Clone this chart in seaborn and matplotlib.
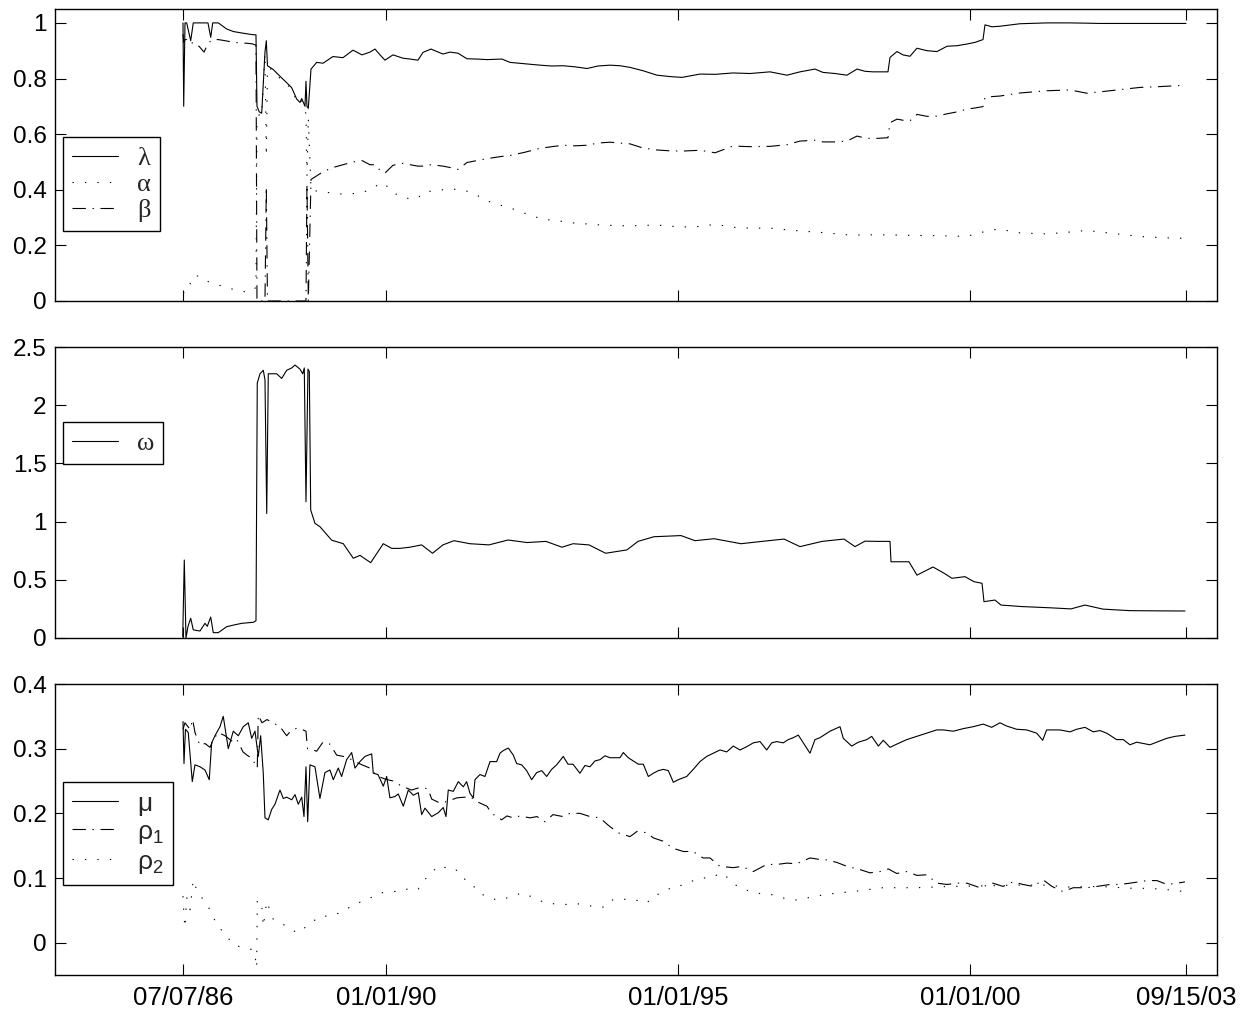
import numpy as np
import pandas as pd

import matplotlib
matplotlib.use("Agg")
import matplotlib.pyplot as plt
from matplotlib.ticker import FormatStrFormatter
import seaborn as sns

# ============================================================
# DATA (decimal years)
# ============================================================
# ---- panel 1: lambda / alpha / beta ----
p1_years = [
    1986.514, 1986.526, 1986.548, 1986.577, 1986.646, 1986.690, 1986.793, 1986.874, 1986.942, 1986.989,
    1987.023, 1987.119, 1987.263, 1987.376, 1987.542, 1987.697, 1987.765, 1987.782, 1987.822, 1987.863,
    1987.919, 1987.942, 1987.962, 1988.057, 1988.177, 1988.291, 1988.377, 1988.463, 1988.519, 1988.549,
    1988.605, 1988.622, 1988.639, 1988.662, 1988.708, 1988.806, 1988.914, 1989.085, 1989.256, 1989.428,
    1989.582, 1989.719, 1989.805, 1989.891, 1989.976, 1990.113, 1990.285, 1990.405, 1990.542, 1990.628,
    1990.765, 1990.970, 1991.091, 1991.228, 1991.382, 1991.553, 1991.725, 1991.982, 1992.119, 1992.376,
    1992.633, 1992.839, 1993.027, 1993.233, 1993.439, 1993.627, 1993.833, 1994.004, 1994.176, 1994.399,
    1994.639, 1994.862, 1995.067, 1995.376, 1995.633, 1995.941, 1996.233, 1996.576, 1996.867, 1997.090,
    1997.347, 1997.484, 1997.690, 1997.895, 1998.067, 1998.204, 1998.341, 1998.598, 1998.633, 1998.753,
    1998.855, 1998.975, 1999.095, 1999.267, 1999.438, 1999.610, 1999.781, 1999.952, 2000.090, 2000.227,
    2000.261, 2000.381, 2000.518, 2000.861, 2001.324, 2001.718, 2002.009, 2002.232, 2002.575, 2002.918,
    2003.261, 2003.706,
]
lam = [
    1.00, 0.70, 1.00, 1.00, 0.936, 1.00, 1.00, 1.00, 1.00, 0.948,
    1.00, 1.00, 0.978, 0.969, 0.963, 0.958, 0.957, 0.70, 0.68, 0.675,
    0.895, 0.936, 0.846, 0.833, 0.808, 0.785, 0.767, 0.726, 0.714, 0.728,
    0.70, 0.79, 0.70, 0.693, 0.834, 0.858, 0.855, 0.879, 0.875, 0.902,
    0.885, 0.895, 0.906, 0.885, 0.866, 0.885, 0.873, 0.870, 0.866, 0.894,
    0.906, 0.888, 0.895, 0.891, 0.871, 0.870, 0.868, 0.870, 0.858, 0.853,
    0.848, 0.845, 0.846, 0.842, 0.836, 0.845, 0.848, 0.846, 0.840, 0.828,
    0.812, 0.807, 0.804, 0.816, 0.815, 0.820, 0.818, 0.824, 0.812, 0.824,
    0.834, 0.822, 0.818, 0.812, 0.834, 0.826, 0.824, 0.824, 0.876, 0.897,
    0.885, 0.880, 0.909, 0.900, 0.897, 0.916, 0.918, 0.924, 0.930, 0.940,
    0.993, 0.986, 0.988, 0.997, 1.000, 1.000, 0.999, 0.998, 0.998, 0.998,
    0.998, 0.998,
]
alpha = [
    0.03, 0.03, 0.028, 0.043, 0.065, 0.09, 0.09, 0.08, 0.07, 0.067,
    0.065, 0.058, 0.048, 0.042, 0.034, 0.034, 0.05, 0.66, 0.67, 0.665,
    0.89, 0.52, 0.84, 0.83, 0.80, 0.78, 0.76, 0.72, 0.71, 0.72,
    0.69, 0.67, 0.45, 0.66, 0.40, 0.395, 0.392, 0.388, 0.384, 0.386,
    0.39, 0.40, 0.41, 0.425, 0.42, 0.39, 0.372, 0.368, 0.37, 0.39,
    0.395, 0.40, 0.404, 0.40, 0.395, 0.38, 0.36, 0.343, 0.335, 0.315,
    0.297, 0.29, 0.286, 0.28, 0.277, 0.274, 0.272, 0.271, 0.270, 0.272,
    0.273, 0.269, 0.266, 0.268, 0.276, 0.265, 0.262, 0.262, 0.256, 0.252,
    0.248, 0.246, 0.242, 0.238, 0.237, 0.238, 0.238, 0.238, 0.238, 0.237,
    0.237, 0.236, 0.236, 0.235, 0.235, 0.234, 0.233, 0.233, 0.240, 0.248,
    0.25, 0.256, 0.258, 0.245, 0.241, 0.248, 0.254, 0.248, 0.24, 0.232,
    0.228, 0.225,
]
beta = [
    0.96, 0.93, 0.94, 0.94, 0.925, 0.93, 0.915, 0.895, 0.925, 0.935,
    0.94, 0.94, 0.935, 0.93, 0.928, 0.925, 0.92, 0.0, 0.0, 0.0,
    0.0, 0.41, 0.0, 0.0, 0.0, 0.0, 0.0, 0.0, 0.0, 0.0,
    0.0, 0.0, 0.42, 0.0, 0.437, 0.45, 0.465, 0.48, 0.49, 0.50,
    0.505, 0.49, 0.49, 0.47, 0.46, 0.488, 0.495, 0.49, 0.485, 0.485,
    0.49, 0.485, 0.48, 0.473, 0.498, 0.505, 0.512, 0.52, 0.523, 0.535,
    0.549, 0.555, 0.56, 0.558, 0.56, 0.568, 0.571, 0.568, 0.565, 0.55,
    0.543, 0.54, 0.539, 0.542, 0.533, 0.557, 0.555, 0.556, 0.562, 0.575,
    0.578, 0.572, 0.572, 0.575, 0.593, 0.586, 0.584, 0.587, 0.641, 0.654,
    0.650, 0.648, 0.671, 0.664, 0.665, 0.673, 0.68, 0.69, 0.694, 0.699,
    0.732, 0.735, 0.737, 0.748, 0.756, 0.759, 0.747, 0.752, 0.76, 0.768,
    0.771, 0.776,
]

# ---- panel 2: omega ----
omega_years = [
    1986.509, 1986.536, 1986.565, 1986.600, 1986.646, 1986.690, 1986.805, 1986.891, 1986.930, 1986.989,
    1987.033, 1987.119, 1987.263, 1987.371, 1987.520, 1987.719, 1987.765, 1987.787, 1987.834, 1987.890,
    1987.919, 1987.949, 1987.976, 1988.120, 1988.206, 1988.291, 1988.377, 1988.434, 1988.519, 1988.566,
    1988.593, 1988.622, 1988.656, 1988.679, 1988.703, 1988.776, 1988.862, 1989.063, 1989.262, 1989.433,
    1989.548, 1989.731, 1989.947, 1990.091, 1990.233, 1990.405, 1990.604, 1990.791, 1990.970, 1991.159,
    1991.433, 1991.759, 1992.085, 1992.410, 1992.736, 1993.010, 1993.199, 1993.473, 1993.758, 1994.124,
    1994.313, 1994.587, 1994.827, 1995.050, 1995.290, 1995.616, 1996.079, 1996.438, 1996.816, 1997.090,
    1997.467, 1997.844, 1998.033, 1998.204, 1998.427, 1998.633, 1998.650, 1998.958, 1999.095, 1999.370,
    1999.558, 1999.695, 1999.918, 2000.072, 2000.210, 2000.244, 2000.432, 2000.535, 2000.895, 2001.358,
    2001.735, 2001.975, 2002.284, 2002.746, 2003.261, 2003.689,
]
omega = [
    0.01, 0.67, 0.0, 0.10, 0.17, 0.07, 0.06, 0.126, 0.10, 0.18,
    0.046, 0.046, 0.097, 0.11, 0.126, 0.135, 0.148, 2.19, 2.27, 2.30,
    2.22, 1.07, 2.27, 2.27, 2.23, 2.30, 2.32, 2.345, 2.31, 2.27,
    2.32, 1.17, 2.31, 2.29, 1.10, 0.985, 0.956, 0.84, 0.81, 0.685,
    0.71, 0.647, 0.81, 0.77, 0.77, 0.78, 0.80, 0.728, 0.80, 0.836,
    0.81, 0.80, 0.842, 0.82, 0.83, 0.78, 0.81, 0.80, 0.728, 0.757,
    0.83, 0.87, 0.875, 0.88, 0.836, 0.853, 0.81, 0.83, 0.85, 0.785,
    0.83, 0.85, 0.785, 0.832, 0.83, 0.83, 0.655, 0.655, 0.54, 0.61,
    0.557, 0.513, 0.527, 0.484, 0.47, 0.312, 0.326, 0.283, 0.27, 0.26,
    0.25, 0.283, 0.248, 0.235, 0.233, 0.232,
]

# ---- panel 3: mu / rho1 / rho2 ----
mu_years = [
    1986.514, 1986.531, 1986.556, 1986.604, 1986.673, 1986.719, 1986.805, 1986.891, 1986.964, 1987.005,
    1987.062, 1987.148, 1987.204, 1987.290, 1987.376, 1987.462, 1987.547, 1987.633, 1987.691, 1987.748,
    1987.804, 1987.845, 1987.890, 1987.919, 1987.976, 1988.034, 1988.090, 1988.176, 1988.233, 1988.291,
    1988.377, 1988.434, 1988.490, 1988.549, 1988.588, 1988.622, 1988.651, 1988.690, 1988.776, 1988.861,
    1988.947, 1989.033, 1989.090, 1989.175, 1989.233, 1989.319, 1989.405, 1989.462, 1989.547, 1989.633,
    1989.748, 1989.776, 1989.856, 1989.947, 1990.005, 1990.061, 1990.147, 1990.204, 1990.290, 1990.376,
    1990.462, 1990.547, 1990.605, 1990.662, 1990.777, 1990.890, 1990.975, 1991.022, 1991.061, 1991.147,
    1991.233, 1991.318, 1991.376, 1991.433, 1991.490, 1991.519, 1991.604, 1991.690, 1991.776, 1991.891,
    1991.947, 1992.004, 1992.090, 1992.176, 1992.233, 1992.319, 1992.405, 1992.490, 1992.576, 1992.662,
    1992.748, 1992.833, 1992.919, 1993.032, 1993.113, 1993.198, 1993.318, 1993.404, 1993.490, 1993.575,
    1993.661, 1993.747, 1993.833, 1994.004, 1994.061, 1994.147, 1994.233, 1994.318, 1994.404, 1994.490,
    1994.576, 1994.661, 1994.747, 1994.833, 1994.919, 1995.004, 1995.148, 1995.261, 1995.376, 1995.490,
    1995.604, 1995.719, 1995.834, 1995.947, 1996.062, 1996.176, 1996.290, 1996.405, 1996.519, 1996.605,
    1996.690, 1996.803, 1996.889, 1996.975, 1997.061, 1997.147, 1997.261, 1997.347, 1997.433, 1997.604,
    1997.776, 1997.832, 1997.976, 1998.090, 1998.234, 1998.319, 1998.433, 1998.518, 1998.633, 1998.748,
    1998.919, 1999.090, 1999.262, 1999.433, 1999.546, 1999.718, 1999.889, 2000.060, 2000.231, 2000.375,
    2000.518, 2000.633, 2000.804, 2000.976, 2001.147, 2001.250, 2001.318, 2001.546, 2001.718, 2001.833,
    2001.975, 2002.117, 2002.232, 2002.347, 2002.518, 2002.631, 2002.746, 2002.861, 2002.975, 2003.089,
    2003.204, 2003.376, 2003.518, 2003.689,
]
mu = [
    0.342, 0.277, 0.33, 0.325, 0.249, 0.275, 0.272, 0.267, 0.252, 0.309,
    0.32, 0.334, 0.35, 0.30, 0.327, 0.32, 0.334, 0.34, 0.316, 0.327,
    0.288, 0.32, 0.262, 0.193, 0.19, 0.206, 0.214, 0.236, 0.223, 0.225,
    0.221, 0.229, 0.214, 0.225, 0.195, 0.272, 0.187, 0.275, 0.272, 0.223,
    0.263, 0.267, 0.252, 0.27, 0.257, 0.283, 0.294, 0.27, 0.28, 0.288,
    0.292, 0.262, 0.26, 0.242, 0.257, 0.224, 0.226, 0.23, 0.211, 0.236,
    0.228, 0.232, 0.198, 0.208, 0.195, 0.201, 0.209, 0.195, 0.236, 0.234,
    0.249, 0.241, 0.249, 0.231, 0.224, 0.252, 0.26, 0.257, 0.28, 0.28,
    0.293, 0.297, 0.301, 0.29, 0.277, 0.275, 0.266, 0.252, 0.263, 0.266,
    0.257, 0.268, 0.275, 0.288, 0.276, 0.276, 0.262, 0.274, 0.272, 0.281,
    0.283, 0.289, 0.286, 0.286, 0.294, 0.286, 0.281, 0.276, 0.276, 0.257,
    0.262, 0.266, 0.268, 0.266, 0.248, 0.252, 0.257, 0.268, 0.28, 0.288,
    0.293, 0.298, 0.295, 0.304, 0.298, 0.303, 0.309, 0.311, 0.298, 0.309,
    0.311, 0.309, 0.314, 0.317, 0.321, 0.309, 0.293, 0.314, 0.317, 0.327,
    0.334, 0.316, 0.304, 0.31, 0.314, 0.319, 0.304, 0.313, 0.302, 0.307,
    0.314, 0.319, 0.324, 0.329, 0.329, 0.327, 0.331, 0.334, 0.338, 0.333,
    0.34, 0.335, 0.33, 0.329, 0.324, 0.313, 0.329, 0.329, 0.326, 0.33,
    0.333, 0.326, 0.328, 0.324, 0.314, 0.314, 0.306, 0.31, 0.308, 0.306,
    0.31, 0.316, 0.319, 0.321,
]

rho1_years = [
    1986.514, 1986.548, 1986.634, 1986.680, 1986.719, 1986.805, 1986.891, 1986.977, 1987.033, 1987.119,
    1987.234, 1987.376, 1987.439, 1987.542, 1987.611, 1987.697, 1987.787, 1987.804, 1987.868, 1987.954,
    1988.057, 1988.176, 1988.291, 1988.348, 1988.468, 1988.549, 1988.622, 1988.648, 1988.690, 1988.804,
    1988.913, 1989.033, 1989.148, 1989.324, 1989.462, 1989.582, 1989.718, 1989.838, 1989.976, 1990.113,
    1990.262, 1990.433, 1990.576, 1990.713, 1990.777, 1990.919, 1991.034, 1991.210, 1991.347, 1991.433,
    1991.553, 1991.724, 1991.805, 1991.976, 1992.067, 1992.175, 1992.290, 1992.462, 1992.582, 1992.719,
    1992.856, 1993.027, 1993.147, 1993.318, 1993.490, 1993.661, 1993.798, 1993.969, 1994.176, 1994.296,
    1994.467, 1994.576, 1994.742, 1994.913, 1995.090, 1995.256, 1995.427, 1995.547, 1995.719, 1995.947,
    1996.096, 1996.290, 1996.519, 1996.696, 1996.867, 1997.033, 1997.261, 1997.404, 1997.553, 1997.724,
    1997.895, 1998.119, 1998.290, 1998.461, 1998.604, 1998.748, 1998.924, 1999.095, 1999.262, 1999.438,
    1999.610, 1999.781, 1999.952, 2000.175, 2000.398, 2000.569, 2000.741, 2000.912, 2001.084, 2001.260,
    2001.409, 2001.598, 2001.775, 2002.009, 2002.181, 2002.404, 2002.575, 2002.746, 2003.037, 2003.209,
    2003.380, 2003.552, 2003.689,
]
rho1 = [
    0.33, 0.34, 0.33, 0.345, 0.325, 0.305, 0.308, 0.302, 0.314, 0.325,
    0.32, 0.31, 0.314, 0.295, 0.29, 0.285, 0.27, 0.352, 0.34, 0.345,
    0.34, 0.334, 0.32, 0.326, 0.332, 0.33, 0.327, 0.30, 0.30, 0.296,
    0.31, 0.307, 0.29, 0.287, 0.28, 0.275, 0.27, 0.258, 0.253, 0.25,
    0.242, 0.236, 0.24, 0.238, 0.222, 0.216, 0.218, 0.224, 0.225, 0.226,
    0.218, 0.211, 0.20, 0.19, 0.196, 0.193, 0.196, 0.193, 0.195, 0.187,
    0.198, 0.195, 0.20, 0.20, 0.195, 0.193, 0.182, 0.170, 0.164, 0.172,
    0.17, 0.162, 0.157, 0.146, 0.141, 0.141, 0.131, 0.131, 0.118, 0.116,
    0.118, 0.11, 0.121, 0.121, 0.123, 0.122, 0.131, 0.129, 0.128, 0.124,
    0.118, 0.113, 0.108, 0.11, 0.114, 0.107, 0.11, 0.104, 0.105, 0.092,
    0.09, 0.092, 0.092, 0.085, 0.092, 0.087, 0.094, 0.09, 0.087, 0.097,
    0.087, 0.079, 0.085, 0.085, 0.087, 0.09, 0.09, 0.092, 0.096, 0.096,
    0.09, 0.092, 0.094,
]

rho2_years = [
    1986.514, 1986.531, 1986.548, 1986.577, 1986.634, 1986.690, 1986.748, 1986.862, 1986.977, 1987.091,
    1987.263, 1987.376, 1987.547, 1987.718, 1987.748, 1987.777, 1987.787, 1987.862, 1987.890, 1987.949,
    1988.062, 1988.233, 1988.348, 1988.462, 1988.633, 1988.861, 1989.033, 1989.262, 1989.433, 1989.662,
    1989.890, 1990.118, 1990.290, 1990.405, 1990.547, 1990.605, 1990.777, 1990.890, 1991.061, 1991.176,
    1991.290, 1991.462, 1991.558, 1991.776, 1991.947, 1992.176, 1992.319, 1992.462, 1992.604, 1992.748,
    1992.890, 1993.032, 1993.318, 1993.604, 1993.747, 1993.889, 1994.061, 1994.233, 1994.462, 1994.576,
    1994.747, 1994.919, 1995.090, 1995.261, 1995.433, 1995.604, 1995.719, 1995.861, 1996.005, 1996.233,
    1996.405, 1996.576, 1996.803, 1997.033, 1997.261, 1997.553, 1997.776, 1998.085, 1998.513, 1999.095,
    1999.661, 2000.347, 2000.809, 2001.324, 2001.667, 2002.232, 2002.798, 2003.089, 2003.380, 2003.689,
]
rho2 = [
    0.072, 0.041, 0.023, 0.07, 0.051, 0.097, 0.082, 0.066, 0.051, 0.028,
    0.01, -0.003, -0.008, -0.011, -0.02, -0.039, 0.066, 0.061, 0.025, 0.064,
    0.036, 0.028, 0.023, 0.015, 0.025, 0.041, 0.041, 0.048, 0.059, 0.066,
    0.077, 0.079, 0.08, 0.085, 0.083, 0.093, 0.108, 0.119, 0.115, 0.115,
    0.101, 0.092, 0.079, 0.068, 0.066, 0.072, 0.077, 0.072, 0.066, 0.061,
    0.06, 0.059, 0.06, 0.055, 0.055, 0.067, 0.067, 0.067, 0.061, 0.072,
    0.078, 0.087, 0.089, 0.096, 0.10, 0.101, 0.108, 0.10, 0.088, 0.079,
    0.076, 0.075, 0.069, 0.066, 0.07, 0.075, 0.077, 0.08, 0.085, 0.085,
    0.087, 0.088, 0.089, 0.089, 0.086, 0.087, 0.084, 0.084, 0.082, 0.079,
]

# x axis ticks: 07/07/86, 01/01/90, 01/01/95, 01/01/00, 09/15/03
tick_years = [1986.514, 1990.0, 1995.0, 2000.0, 2003.707]
tick_labels = ["07/07/86", "01/01/90", "01/01/95", "01/01/00", "09/15/03"]

# ============================================================
# STYLE
# ============================================================
sns.set_style("ticks")
plt.rcParams["font.family"] = ["Liberation Sans", "DejaVu Sans"]
plt.rcParams["mathtext.fontset"] = "custom"
plt.rcParams["mathtext.rm"] = "Liberation Sans"
plt.rcParams["mathtext.it"] = "Liberation Sans:italic"

LW = 0.8
SOLID = "-"
DOTTED = (0, (1.2, 10))
DASHDOT = (0, (12, 6, 1.2, 6))

fig = plt.figure(figsize=(12.49, 10.14), dpi=100)
ax1 = fig.add_axes([0.04404, 0.70316, 0.93034, 0.28797])
ax2 = fig.add_axes([0.04404, 0.37081, 0.93034, 0.28698])
ax3 = fig.add_axes([0.04404, 0.03846, 0.93034, 0.28698])


def draw(ax, x, y, ls, label):
    sns.lineplot(x=x, y=y, ax=ax, color="black", linewidth=LW, linestyle=ls,
                 estimator=None, sort=False, label=label)


def finish(ax, ylim, yticks, show_xlabels):
    ax.set_xlim(1984.32, 2004.238)
    ax.set_ylim(*ylim)
    ax.set_yticks(yticks)
    ax.yaxis.set_major_formatter(FormatStrFormatter("%g"))
    ax.set_xticks(tick_years)
    if show_xlabels:
        ax.set_xticklabels(tick_labels)
    else:
        ax.set_xticklabels([])
    ax.set_xlabel("")
    ax.set_ylabel("")
    ax.tick_params(direction="in", length=8, width=0.8, top=True, right=True,
                   colors="black")
    ax.tick_params(axis="y", labelsize=17.5, pad=6)
    ax.tick_params(axis="x", labelsize=18.5, pad=8)
    for sp in ax.spines.values():
        sp.set_linewidth(1.0)
        sp.set_color("black")
        sp.set_visible(True)


def legend(ax, y_anchor, family, spacing):
    handles, labels = ax.get_legend_handles_labels()
    leg = ax.legend(handles, labels, loc="center left", bbox_to_anchor=(0.0, y_anchor),
                    borderaxespad=0.3, frameon=True, fancybox=False, framealpha=1,
                    edgecolor="black", handlelength=1.75, handletextpad=0.7,
                    labelspacing=spacing, borderpad=0.35,
                    prop=dict(family=family, size=19))
    leg.get_frame().set_linewidth(1.0)


# ---- panel 1 ----
draw(ax1, p1_years, lam, SOLID, "λ")
draw(ax1, p1_years, alpha, DOTTED, "α")
draw(ax1, p1_years, beta, DASHDOT, "β")
finish(ax1, (0, 1.05), [0, 0.2, 0.4, 0.6, 0.8, 1.0], False)
legend(ax1, 0.40, ["Liberation Serif", "DejaVu Serif"], 0.1)

# ---- panel 2 ----
draw(ax2, omega_years, omega, SOLID, "ω")
finish(ax2, (0, 2.5), [0, 0.5, 1.0, 1.5, 2.0, 2.5], False)
legend(ax2, 0.67, ["Liberation Serif", "DejaVu Serif"], 0.1)

# ---- panel 3 ----
draw(ax3, mu_years, mu, SOLID, "μ")
draw(ax3, rho1_years, rho1, DASHDOT, "ρ$_1$")
draw(ax3, rho2_years, rho2, DOTTED, "ρ$_2$")
finish(ax3, (-0.05, 0.4), [0, 0.1, 0.2, 0.3, 0.4], True)
legend(ax3, 0.486, ["Liberation Sans", "DejaVu Sans"], 0.15)

fig.savefig("out.png", dpi=100)
plt.close(fig)
